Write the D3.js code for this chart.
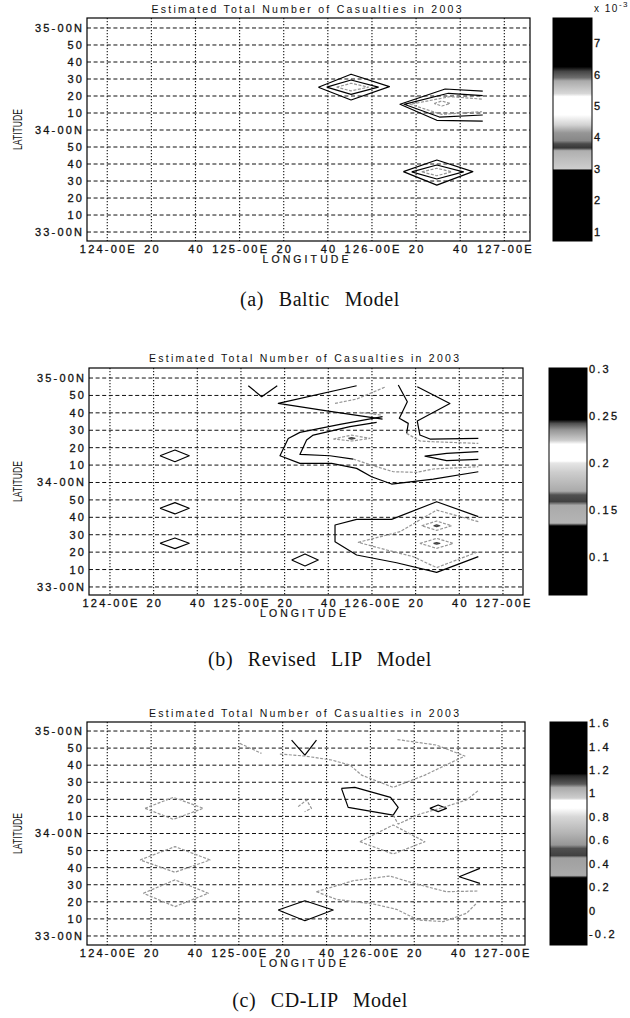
<!DOCTYPE html>
<html><head><meta charset="utf-8">
<script src="https://cdn.jsdelivr.net/npm/d3@7"></script>
<style>
body{margin:0;background:#fff}
svg text{font-family:"Liberation Sans",Arial,sans-serif;fill:#111}
</style>
</head><body>
<svg id="c" width="630" height="1018"></svg>
<script>
// ---------- data ----------
const chartTitle = "Estimated Total Number of Casualties in 2003";
const xAxisTitle = "LONGITUDE";
const yAxisTitle = "LATITUDE";
const captions = ["(a) Baltic Model", "(b) Revised LIP Model", "(c) CD-LIP Model"];

const lonTicks = [124, 124+20/60, 124+40/60, 125, 125+20/60, 125+40/60, 126, 126+20/60, 126+40/60, 127];
const lonLabels = ["124-00E","20","40","125-00E","20","40","126-00E","20","40","127-00E"];
const latTicks = [35, 34+50/60, 34+40/60, 34+30/60, 34+20/60, 34+10/60, 34, 33+50/60, 33+40/60, 33+30/60, 33+20/60, 33+10/60, 33];
const latLabels = ["35-00N","50","40","30","20","10","34-00N","50","40","30","20","10","33-00N"];

// axis limits
const lonDomA = [123.847, 127.194], latDomA = [32.912, 35.098];
const lonDomB = [123.840, 127.153], latDomB = [32.923, 35.096];
const lonDomC = [123.846, 127.175], latDomC = [32.912, 35.088];

// colorbars: ticks, labels, limits, grey-level stops [value, grey 0-255]
const cbTicksA = [1,2,3,4,5,6,7];
const cbLabelsA = ["1","2","3","4","5","6","7"];
const cbDomainA = [0.71, 7.8];
const cbStopsA = [[0.71,0],[2.97,0],[3.0,205],[3.3,190],[3.58,175],[3.67,55],[3.8,75],[3.9,135],[4.15,150],[4.4,210],[4.72,255],[5.3,255],[5.4,215],[5.8,170],[5.9,110],[6.1,70],[6.25,0],[7.8,0]];

const cbTicksB = [0.1,0.15,0.2,0.25,0.3];
const cbLabelsB = ["0.1","0.15","0.2","0.25","0.3"];
const cbDomainB = [0.0596, 0.301];
const cbStopsB = [[0.0596,0],[0.133,0],[0.136,180],[0.155,170],[0.159,65],[0.166,80],[0.17,170],[0.19,205],[0.2,230],[0.202,255],[0.22,255],[0.224,205],[0.235,150],[0.242,80],[0.246,0],[0.301,0]];

const cbTicksC = [-0.2,0,0.2,0.4,0.6,0.8,1,1.2,1.4,1.6];
const cbLabelsC = ["-0.2","0","0.2","0.4","0.6","0.8","1","1.2","1.4","1.6"];
const cbDomainC = [-0.294, 1.61];
const cbStopsC = [[-0.294,0],[0.28,0],[0.3,170],[0.45,160],[0.47,65],[0.53,80],[0.56,150],[0.66,180],[0.8,215],[0.875,255],[0.94,255],[0.96,205],[1.05,170],[1.08,90],[1.15,40],[1.17,0],[1.61,0]];

// contour lines [lon, lat] with contour level
const contoursA = [
  {level:1.5, pts:[[125.595,34.419],[125.842,34.547],[126.132,34.425],[125.842,34.294],[125.595,34.419]]},
  {level:2.5, pts:[[125.658,34.42],[125.842,34.49],[126.048,34.42],[125.842,34.35],[125.658,34.42]]},
  {level:3.3, pts:[[125.733,34.42],[125.842,34.458],[125.973,34.42],[125.842,34.383],[125.733,34.42]]},
  {level:1.5, pts:[[126.237,33.592],[126.49,33.706],[126.762,33.592],[126.49,33.46],[126.237,33.592]]},
  {level:2.5, pts:[[126.30,33.59],[126.49,33.657],[126.691,33.59],[126.49,33.52],[126.30,33.59]]},
  {level:3.3, pts:[[126.376,33.59],[126.49,33.625],[126.603,33.59],[126.49,33.552],[126.376,33.59]]},
  {level:1.5, pts:[[126.837,34.382],[126.553,34.402],[126.212,34.252],[126.49,34.095],[126.837,34.088]]},
  {level:2.5, pts:[[126.837,34.337],[126.577,34.36],[126.243,34.252],[126.51,34.127],[126.837,34.147]]},
  {level:3.3, pts:[[126.83,34.303],[126.59,34.327],[126.288,34.252],[126.528,34.153],[126.83,34.18]]},
  {level:4.2, pts:[[126.47,34.26],[126.528,34.285],[126.59,34.26],[126.528,34.235],[126.47,34.26]]}
];

const contoursB = [
  {level:0.1, pts:[[125.056,34.926],[125.158,34.821],[125.277,34.926]]},
  {level:0.1, pts:[[125.883,34.926],[125.285,34.757],[125.667,34.684],[126.081,34.607]]},
  {level:0.18, pts:[[125.718,34.757],[125.883,34.799],[126.099,34.913]]},
  {level:0.18, pts:[[125.908,34.671],[126.074,34.645]]},
  {level:0.1, pts:[[126.081,34.63],[125.756,34.556],[125.45,34.48],[125.361,34.422],[125.298,34.256],[125.45,34.183],[125.692,34.183],[125.883,34.135],[125.997,34.055],[126.15,33.985],[126.468,34.033],[126.812,34.103]]},
  {level:0.1, pts:[[126.036,34.575],[125.832,34.534],[125.552,34.454],[125.501,34.406],[125.45,34.269],[125.679,34.256],[125.857,34.224]]},
  {level:0.18, pts:[[125.857,34.224],[126.01,34.161],[126.163,34.103],[126.341,34.097],[126.468,34.129],[126.812,34.151]]},
  {level:0.18, pts:[[125.705,34.416],[125.845,34.454],[125.985,34.422],[125.845,34.397],[125.705,34.416]]},
  {level:0.16, pts:[[125.82,34.422],[125.845,34.43],[125.87,34.422],[125.845,34.414],[125.82,34.422]]},
  {level:0.1, pts:[[126.201,34.933],[126.27,34.773],[126.209,34.614],[126.277,34.566],[126.265,34.47]]},
  {level:0.18, pts:[[126.265,34.47],[126.366,34.397],[126.468,34.39],[126.812,34.374]]},
  {level:0.1, pts:[[126.346,34.917],[126.595,34.757],[126.346,34.588],[126.366,34.454],[126.443,34.416],[126.812,34.422]]},
  {level:0.1, pts:[[126.812,34.295],[126.57,34.279],[126.405,34.253],[126.57,34.209],[126.812,34.221]]},
  {level:0.1, pts:[[126.812,33.673],[126.494,33.816],[126.15,33.647],[125.883,33.647],[125.718,33.593],[125.718,33.433],[125.883,33.306],[126.188,33.232],[126.494,33.14],[126.812,33.29]]},
  {level:0.18, pts:[[126.812,33.625],[126.494,33.736],[126.214,33.529],[125.896,33.427],[126.112,33.354],[126.315,33.29],[126.494,33.185],[126.812,33.338]]},
  {level:0.18, pts:[[126.379,33.586],[126.494,33.631],[126.608,33.586],[126.494,33.542],[126.379,33.586]]},
  {level:0.18, pts:[[126.366,33.417],[126.494,33.465],[126.621,33.417],[126.494,33.37],[126.366,33.417]]},
  {level:0.16, pts:[[126.47,33.586],[126.494,33.594],[126.518,33.586],[126.494,33.578],[126.47,33.586]]},
  {level:0.16, pts:[[126.47,33.417],[126.494,33.425],[126.518,33.417],[126.494,33.409],[126.47,33.417]]},
  {level:0.1, pts:[[124.382,34.256],[124.496,34.311],[124.605,34.256],[124.496,34.199],[124.382,34.256]]},
  {level:0.1, pts:[[124.382,33.753],[124.496,33.807],[124.605,33.753],[124.496,33.699],[124.382,33.753]]},
  {level:0.1, pts:[[124.382,33.418],[124.496,33.469],[124.605,33.418],[124.496,33.367],[124.382,33.418]]},
  {level:0.1, pts:[[125.387,33.258],[125.489,33.316],[125.59,33.258],[125.489,33.201],[125.387,33.258]]}
];

const contoursC = [
  {level:0.4, pts:[[124.287,34.246],[124.502,34.353],[124.73,34.246],[124.502,34.138],[124.287,34.246]]},
  {level:0.4, pts:[[124.249,33.742],[124.515,33.872],[124.781,33.742],[124.515,33.622],[124.249,33.742]]},
  {level:0.4, pts:[[124.274,33.417],[124.515,33.547],[124.768,33.417],[124.515,33.287],[124.274,33.417]]},
  {level:0.4, pts:[[125.008,34.879],[125.172,34.782]]},
  {level:0.1, pts:[[125.401,34.912],[125.502,34.765],[125.59,34.912]]},
  {level:0.4, pts:[[125.312,34.775],[125.502,34.756],[125.705,34.717],[125.844,34.668],[125.933,34.57],[126.173,34.45],[126.414,34.57],[126.718,34.756],[126.502,34.863],[126.198,34.918]]},
  {level:1.4, pts:[[125.78,34.44],[125.882,34.45],[126.153,34.352],[126.211,34.255],[126.173,34.18],[125.831,34.255],[125.78,34.44]]},
  {level:0.4, pts:[[125.451,34.262],[125.515,34.327],[125.552,34.245],[125.5,34.213]]},
  {level:1.4, pts:[[126.452,34.245],[126.515,34.278],[126.578,34.245],[126.515,34.213],[126.452,34.245]]},
  {level:0.4, pts:[[126.173,34.18],[126.211,34.092],[126.376,34.19],[126.553,34.255],[126.73,34.327],[126.819,34.418]]},
  {level:0.4, pts:[[125.92,33.92],[126.173,34.083],[126.414,33.92],[126.173,33.8],[125.92,33.92]]},
  {level:0.4, pts:[[125.59,33.432],[125.869,33.539],[126.148,33.585],[126.35,33.507],[126.578,33.432],[126.819,33.439]]},
  {level:0.4, pts:[[125.59,33.432],[125.742,33.357],[126.021,33.312],[126.198,33.26],[126.363,33.156],[126.553,33.14],[126.73,33.221],[126.806,33.318]]},
  {level:0.1, pts:[[126.832,33.66],[126.675,33.578],[126.832,33.513]]},
  {level:0.1, pts:[[125.299,33.253],[125.502,33.344],[125.717,33.253],[125.502,33.149],[125.299,33.253]]}
];

// ---------- layout ----------
const panels = [
  {contours:contoursA, lonDom:lonDomA, latDom:latDomA, cbTicks:cbTicksA, cbLabels:cbLabelsA, cbDomain:cbDomainA, cbStops:cbStopsA,
   caption:captions[0], exponent:true, box:{l:87,r:530,t:18,b:241}, cb:{l:553,r:592}, titleY:13, capY:306},
  {contours:contoursB, lonDom:lonDomB, latDom:latDomB, cbTicks:cbTicksB, cbLabels:cbLabelsB, cbDomain:cbDomainB, cbStops:cbStopsB,
   caption:captions[1], exponent:false, box:{l:89,r:523,t:368,b:595}, cb:{l:549,r:587}, titleY:362, capY:666},
  {contours:contoursC, lonDom:lonDomC, latDom:latDomC, cbTicks:cbTicksC, cbLabels:cbLabelsC, cbDomain:cbDomainC, cbStops:cbStopsC,
   caption:captions[2], exponent:false, box:{l:87,r:525,t:722,b:945}, cb:{l:550,r:587}, titleY:717, capY:1007}
];

const svg = d3.select("#c");
const defs = svg.append("defs");
const LS = 2.2; // tick label letter spacing
const TF = 11;  // tick label font size

panels.forEach((p, i) => {
  const B = p.box;
  const x = d3.scaleLinear().domain(p.lonDom).range([B.l, B.r]);
  const y = d3.scaleLinear().domain(p.latDom).range([B.b, B.t]);
  const g = svg.append("g");

  // grid
  g.selectAll("line.vg").data(lonTicks).join("line")
    .attr("x1", d => x(d)).attr("x2", d => x(d)).attr("y1", B.t).attr("y2", B.b)
    .attr("stroke", "#111").attr("stroke-width", 1.1).attr("stroke-dasharray", "1.2,1.8");
  g.selectAll("line.hg").data(latTicks).join("line")
    .attr("x1", B.l).attr("x2", B.r).attr("y1", d => y(d)).attr("y2", d => y(d))
    .attr("stroke", "#111").attr("stroke-width", 1).attr("stroke-dasharray", "4,2.6");

  // contours
  const grey = d3.scaleLinear().domain(p.cbStops.map(s => s[0])).range(p.cbStops.map(s => s[1])).clamp(true);
  const line = d3.line().x(d => x(d[0])).y(d => y(d[1]));
  g.selectAll("path.ct").data(p.contours).join("path")
    .attr("d", d => line(d.pts)).attr("fill", "none")
    .attr("stroke", d => { const v = Math.min(150, Math.round(grey(d.level))); return d3.rgb(v, v, v); })
    .attr("stroke-width", 1.2)
    .attr("stroke-linejoin", "round")
    .attr("stroke-dasharray", d => grey(d.level) > 100 ? "3,1.5" : null);

  // frame
  g.append("rect").attr("x", B.l).attr("y", B.t).attr("width", B.r - B.l).attr("height", B.b - B.t)
    .attr("fill", "none").attr("stroke", "#000").attr("stroke-width", 1.2);

  // tick labels
  const tickText = sel => sel.attr("font-size", TF).attr("letter-spacing", LS)
    .attr("stroke", "#111").attr("stroke-width", 0.3);
  g.selectAll("text.yl").data(latTicks).join("text")
    .attr("x", B.l - 5 + LS).attr("y", d => y(d)).attr("dy", "0.36em")
    .attr("text-anchor", "end").call(tickText)
    .text((d, j) => latLabels[j]);
  g.selectAll("text.xl").data(lonTicks).join("text")
    .attr("x", d => x(d) + LS / 2).attr("y", B.b + 12)
    .attr("text-anchor", "middle").call(tickText)
    .text((d, j) => lonLabels[j]);

  // titles
  const cx = (B.l + B.r) / 2;
  g.append("text").attr("x", cx - 2).attr("y", p.titleY).attr("text-anchor", "middle")
    .attr("font-size", 10.5).attr("textLength", 310).attr("lengthAdjust", "spacing").text(chartTitle);
  g.append("text").attr("x", cx - 3).attr("y", B.b + 22).attr("text-anchor", "middle")
    .attr("font-size", 10.5).attr("textLength", 86).attr("lengthAdjust", "spacing")
    .attr("stroke", "#111").attr("stroke-width", 0.2).text(xAxisTitle);
  g.append("text").attr("transform", `translate(22,${(B.t + B.b) / 2}) rotate(-90)`)
    .attr("text-anchor", "middle").attr("font-size", 12)
    .attr("textLength", 41).attr("lengthAdjust", "spacingAndGlyphs").text(yAxisTitle);

  // colorbar
  const cs = d3.scaleLinear().domain(p.cbDomain).range([B.b, B.t]);
  const gid = "cbg" + i;
  const lg = defs.append("linearGradient").attr("id", gid)
    .attr("x1", 0).attr("y1", 1).attr("x2", 0).attr("y2", 0);
  p.cbStops.forEach(s => {
    const off = (s[0] - p.cbDomain[0]) / (p.cbDomain[1] - p.cbDomain[0]);
    lg.append("stop").attr("offset", Math.max(0, Math.min(1, off)))
      .attr("stop-color", d3.rgb(s[1], s[1], s[1]));
  });
  g.append("rect").attr("x", p.cb.l).attr("y", B.t).attr("width", p.cb.r - p.cb.l).attr("height", B.b - B.t)
    .attr("fill", `url(#${gid})`).attr("stroke", "#000").attr("stroke-width", 1);
  g.selectAll("text.cl").data(p.cbTicks).join("text")
    .attr("x", p.cb.r + 2).attr("y", d => cs(d)).attr("dy", "0.36em")
    .call(tickText)
    .text((d, j) => p.cbLabels[j]);
  if (p.exponent) {
    const t = g.append("text").attr("x", p.cb.r + 2).attr("y", B.t - 6).attr("font-size", 10).attr("letter-spacing", 1.5);
    t.append("tspan").text("x 10");
    t.append("tspan").attr("dy", -5).attr("font-size", 8).text("-3");
  }

  // caption
  svg.append("text").attr("x", 320).attr("y", p.capY).attr("text-anchor", "middle")
    .style("font-family", '"Liberation Serif","DejaVu Serif",serif').attr("font-size", 20)
    .attr("letter-spacing", 0.6).attr("word-spacing", 9).text(p.caption);
});
</script>
</body></html>
